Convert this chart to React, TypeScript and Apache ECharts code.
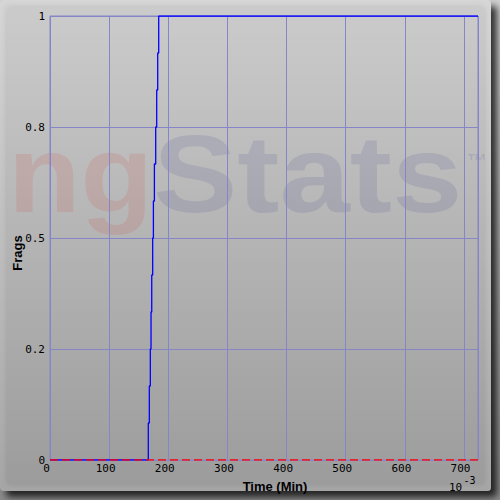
import React, { useEffect, useRef } from "react";
import * as echarts from "echarts";

// Step positions (x, in 10^-3 Min) where cumulative frags rise by 1/12 each
const stepTimes = [166.2, 167.9, 169.6, 170.8, 172.0, 173.6, 174.8, 176.5, 178.7, 180.4, 182.1, 183.8];
const stepValues = [1 / 12, 2 / 12, 3 / 12, 4 / 12, 5 / 12, 6 / 12, 7 / 12, 8 / 12, 9 / 12, 10 / 12, 11 / 12, 1];
const xStart = 0;
const xEnd = 723.6;
const yTickLabels = ["0", "0.2", "0.5", "0.8", "1"];
const xTickLabels = ["0", "100", "200", "300", "400", "500", "600", "700"];

const blueData: number[][] = [[xStart, 0]];
stepTimes.forEach((t, i) => blueData.push([t, stepValues[i]]));
blueData.push([xEnd, 1]);
const redData: number[][] = [[xStart, 0], [xEnd, 0]];

const GRID = "#8585c8";

export default function App() {
  const ref = useRef<HTMLDivElement>(null);
  useEffect(() => {
    document.body.style.margin = "0";
    const chart = echarts.init(ref.current!, null, { renderer: "svg" });
    chart.setOption({
      animation: false,
      grid: { left: 50, top: 16, right: 22, bottom: 40, show: true, borderColor: GRID, borderWidth: 1, backgroundColor: "transparent" },
      xAxis: {
        type: "value",
        min: 0,
        max: xEnd,
        interval: 100,
        axisLine: { show: false },
        axisTick: { show: false },
        splitLine: { show: true, lineStyle: { color: GRID, width: 1 } },
        axisLabel: {
          color: "#000",
          fontFamily: "DejaVu Sans Mono",
          fontSize: 11,
          margin: 3,
          lineHeight: 11,
          padding: [0, 7, 0, 0],
          showMaxLabel: false,
          formatter: (v: number) => xTickLabels[Math.round(v / 100)] ?? "",
        },
      },
      yAxis: {
        type: "value",
        min: 0,
        max: 1,
        interval: 0.25,
        axisLine: { show: false },
        axisTick: { show: false },
        splitLine: { show: true, lineStyle: { color: GRID, width: 1 } },
        axisLabel: {
          color: "#000",
          fontFamily: "DejaVu Sans Mono",
          fontSize: 11,
          margin: 5,
          formatter: (v: number) => yTickLabels[Math.round(v / 0.25)] ?? "",
        },
      },
      graphic: [
        {
          type: "rect",
          z: -10,
          silent: true,
          shape: { x: 0, y: 0, width: 500, height: 500 },
          style: { fill: new echarts.graphic.LinearGradient(0, 0, 0, 1, [{ offset: 0, color: "#cfcfcf" }, { offset: 1, color: "#8a8a8a" }]) },
        },
        {
          type: "rect",
          z: -9,
          silent: true,
          shape: { x: 0, y: 0, width: 491, height: 491, r: 4 },
          style: {
            fill: new echarts.graphic.LinearGradient(0, 0, 0, 1, [
              { offset: 0, color: "#d6d6d6" },
              { offset: 1, color: "#a6a6a6" },
            ]),
            shadowBlur: 7,
            shadowOffsetX: 6,
            shadowOffsetY: 6,
            shadowColor: "rgba(0,0,0,0.75)",
          },
        },
        {
          type: "rect",
          z: -8,
          silent: true,
          shape: { x: 7, y: 7, width: 477, height: 477, r: 2 },
          style: {
            fill: new echarts.graphic.LinearGradient(0, 0, 0, 1, [
              { offset: 0, color: "#cbcbcb" },
              { offset: 1, color: "#9c9c9c" },
            ]),
            shadowBlur: 6,
            shadowColor: "rgba(0,0,0,0.12)",
          },
        },
        {
          type: "text",
          z: -5,
          silent: true,
          x: 8,
          y: 119,
          scaleX: 1.08,
          style: {
            text: "ng",
            font: "bold 110px 'Liberation Sans', Arial, sans-serif",
            fill: "rgba(230,20,20,0.1)",
            verticalAlign: "top",
          },
        },
        {
          type: "text",
          z: -5,
          silent: true,
          x: 153,
          y: 119,
          scaleX: 1.15,
          style: {
            text: "Stats",
            font: "bold 110px 'Liberation Sans', Arial, sans-serif",
            fill: "rgba(50,50,140,0.12)",
            verticalAlign: "top",
          },
        },
        {
          type: "text",
          z: -5,
          silent: true,
          x: 467,
          y: 151,
          style: {
            text: "™",
            font: "bold 20px 'Liberation Sans', Arial, sans-serif",
            fill: "rgba(50,50,140,0.12)",
            verticalAlign: "top",
          },
        },
        {
          type: "text",
          x: 275,
          y: 486,
          style: {
            text: "Time (Min)",
            font: "bold 13px 'Liberation Sans', Arial, sans-serif",
            fill: "#000",
            align: "center",
            verticalAlign: "middle",
          },
        },
        {
          type: "text",
          x: 17,
          y: 253,
          rotation: Math.PI / 2,
          style: {
            text: "Frags",
            font: "bold 13px 'Liberation Sans', Arial, sans-serif",
            fill: "#000",
            align: "center",
            verticalAlign: "middle",
          },
        },
        {
          type: "text",
          x: 449,
          y: 487.5,
          style: { text: "10", font: "11px 'DejaVu Sans Mono'", fill: "#000", verticalAlign: "middle", lineHeight: 9 },
        },
        {
          type: "text",
          x: 463.5,
          y: 480.5,
          style: { text: "-3", font: "10px 'DejaVu Sans Mono'", fill: "#000", verticalAlign: "middle", lineHeight: 8 },
        },
      ],
      series: [
        {
          type: "line",
          step: "end",
          data: blueData,
          symbol: "none",
          lineStyle: { color: "#0000ff", width: 1.3 },
          z: 3,
        },
        {
          type: "line",
          data: redData,
          symbol: "none",
          lineStyle: { color: "#ff0000", width: 1.5, type: [8, 4] },
          z: 4,
        },
      ],
    });
    return () => chart.dispose();
  }, []);
  return <div ref={ref} style={{ width: 500, height: 500 }} />;
}
